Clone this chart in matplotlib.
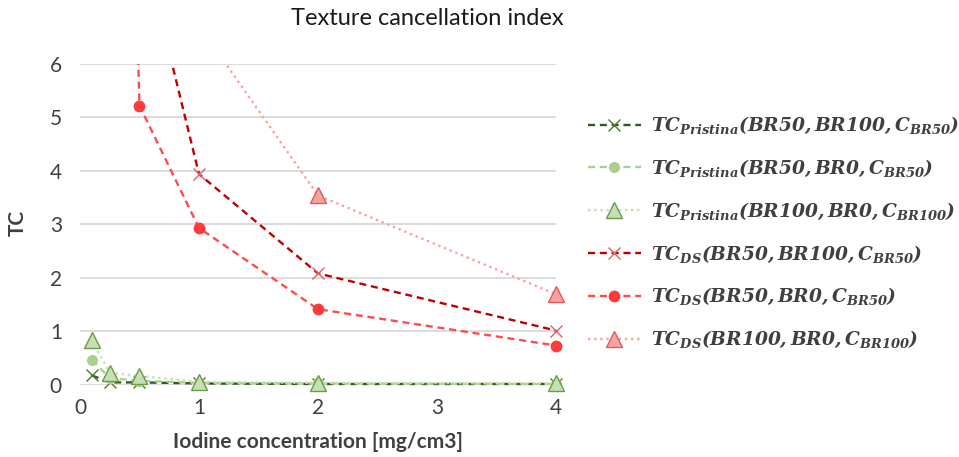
import matplotlib
matplotlib.use("Agg")
import matplotlib.pyplot as plt
from matplotlib.patches import Rectangle

# Iodine concentration [mg/cm3]
conc = [0.1, 0.25, 0.5, 1, 2, 4]

# Pristina series
tc_pri_50_100 = [0.17, 0.04, 0.04, 0.02, 0.01, 0.01]
tc_pri_50_0 = [0.46, 0.12, 0.07, 0.03, 0.02, 0.01]
tc_pri_100_0 = [0.83, 0.22, 0.16, 0.05, 0.03, 0.02]

# DS series (early points run off the top of the axis)
conc_ds_50_100 = [0.5, 1, 2, 4]
tc_ds_50_100 = [8.5, 3.94, 2.08, 1.01]
conc_ds_50_0 = [0.25, 0.5, 1, 2, 4]
tc_ds_50_0 = [25.0, 5.22, 2.93, 1.41, 0.73]
conc_ds_100_0 = [1, 2, 4]
tc_ds_100_0 = [6.72, 3.54, 1.69]

labels = [
    r'$\mathbfit{TC_{Pristina}(BR50,BR100,C_{BR50})}$',
    r'$\mathbfit{TC_{Pristina}(BR50,BR0,C_{BR50})}$',
    r'$\mathbfit{TC_{Pristina}(BR100,BR0,C_{BR100})}$',
    r'$\mathbfit{TC_{DS}(BR50,BR100,C_{BR50})}$',
    r'$\mathbfit{TC_{DS}(BR50,BR0,C_{BR50})}$',
    r'$\mathbfit{TC_{DS}(BR100,BR0,C_{BR100})}$',
]

plt.rcParams['font.family'] = ['Lato', 'DejaVu Sans']
plt.rcParams['mathtext.fontset'] = 'dejavuserif'

fig = plt.figure(figsize=(9.59, 4.57), dpi=100)
ax = fig.add_axes([0.0834, 0.1586, 0.4964, 0.7013])

styles = [
    dict(x=conc, y=tc_pri_50_100, color='#385723', ls=(0, (3, 2)), marker='x',
         ms=8, mfc='#4f7a32', mec='#4f7a32', mew=1.0),
    dict(x=conc, y=tc_pri_50_0, color='#a9d18e', ls=(0, (3, 2)), marker='o',
         ms=7, mfc='#a9d18e', mec='#a9d18e', mew=1.0),
    dict(x=conc, y=tc_pri_100_0, color='#c5e0b4', ls=(0, (1, 1.6)), marker='^',
         ms=11, mfc='#c5e0b4', mec='#6a9a4a', mew=1.0),
    dict(x=conc_ds_50_100, y=tc_ds_50_100, color='#c00000', ls=(0, (3, 2)), marker='x',
         ms=9, mfc='#e06060', mec='#e06060', mew=1.0),
    dict(x=conc_ds_50_0, y=tc_ds_50_0, color='#ff4b4b', ls=(0, (3, 2)), marker='o',
         ms=7.5, mfc='#ff3b3b', mec='#ff3b3b', mew=1.0),
    dict(x=conc_ds_100_0, y=tc_ds_100_0, color='#ffa0a0', ls=(0, (1, 1.6)), marker='^',
         ms=11, mfc='#f4a3a3', mec='#e05a5a', mew=1.0),
]

clip = Rectangle((-0.05, -0.1), 1.1, 1.1, transform=ax.transAxes)
handles = []
for st, lab in zip(styles, labels):
    ln, = ax.plot(st['x'], st['y'], color=st['color'], linestyle=st['ls'], lw=1.7,
                  marker=st['marker'], markersize=st['ms'],
                  markerfacecolor=st['mfc'], markeredgecolor=st['mec'],
                  markeredgewidth=st['mew'], label=lab)
    ln.set_clip_path(clip)
    handles.append(ln)

ax.set_xlim(0, 4)
ax.set_ylim(0, 6)
ax.set_xticks([0, 1, 2, 3, 4])
ax.set_yticks([0, 1, 2, 3, 4, 5, 6])
ax.grid(axis='y', color='#d9d9d9', lw=1.3)
ax.set_axisbelow(True)
for s in ax.spines.values():
    s.set_visible(False)
ax.tick_params(axis='both', length=0, labelsize=15, labelcolor='#404040')
ax.tick_params(axis='y', pad=13)
ax.tick_params(axis='x', pad=10)

ax.set_xlabel('Iodine concentration [mg/cm3]', fontsize=15, fontweight='bold',
              color='#404040', labelpad=10)
fig.text(0.019, 0.512, 'TC', rotation=90, fontsize=15, fontweight='bold',
         color='#404040', ha='center', va='center')
fig.text(0.446, 0.96, 'Texture cancellation index', fontsize=17,
         color='#1a1a1a', ha='center', va='center')

leg = fig.legend(handles=handles, loc='upper left', bbox_to_anchor=(0.613, 0.748),
                 frameon=False, fontsize=13.4, handlelength=2.85, handletextpad=0.55,
                 labelspacing=1.17, borderpad=0, borderaxespad=0)
for t in leg.get_texts():
    t.set_color('#404040')

fig.savefig('out.png', dpi=100)
